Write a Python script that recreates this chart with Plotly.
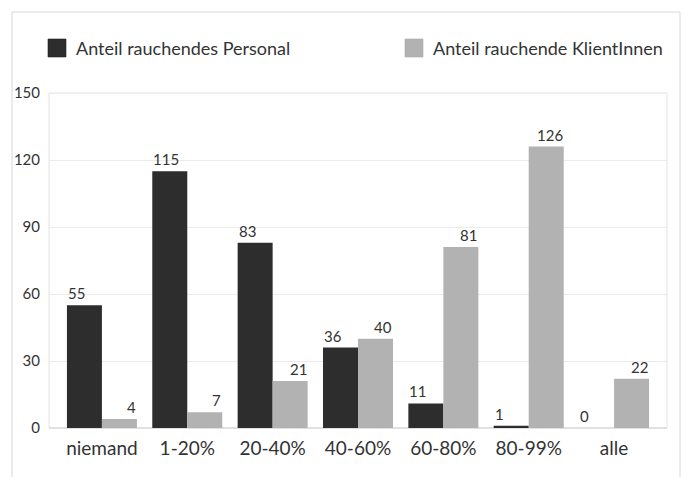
import plotly.graph_objects as go

categories = ["niemand", "1-20%", "20-40%", "40-60%", "60-80%", "80-99%", "alle"]
personal = [55, 115, 83, 36, 11, 1, 0]
klienten = [4, 7, 21, 40, 81, 126, 22]
series_names = ["Anteil rauchendes Personal", "Anteil rauchende KlientInnen"]
y_ticks = [0, 30, 60, 90, 120, 150]

DARK = "#2d2d2d"
LIGHT = "#b2b2b2"
TXT = "#333333"
FONT = "Lato"

W, H = 686, 477
L, R, T, B = 49, 19, 93, 49
pw, ph = W - L - R, H - T - B

fig = go.Figure()
fig.add_trace(go.Bar(x=categories, y=personal, name=series_names[0],
                     marker=dict(color=DARK, line=dict(width=0)),
                     showlegend=False))
fig.add_trace(go.Bar(x=categories, y=klienten, name=series_names[1],
                     marker=dict(color=LIGHT, line=dict(width=0)),
                     showlegend=False))

ann = []
for c, v in zip(categories, personal):
    ann.append(dict(x=c, y=v, text=str(v), xref="x", yref="y", showarrow=False,
                    xanchor="left", yanchor="bottom", xshift=-36, yshift=1,
                    font=dict(family=FONT, size=15, color=TXT)))
for c, v in zip(categories, klienten):
    ann.append(dict(x=c, y=v, text=str(v), xref="x", yref="y", showarrow=False,
                    xanchor="right", yanchor="bottom", xshift=36, yshift=1,
                    font=dict(family=FONT, size=15, color=TXT)))

def px_x(p):
    return (p - L) / pw

def px_y(p):
    return (H - B - p) / ph

# legend (manual)
leg = [(48, series_names[0], DARK), (405, series_names[1], LIGHT)]
shapes = []
for x0, name, col in leg:
    shapes.append(dict(type="rect", xref="paper", yref="paper",
                       x0=px_x(x0), x1=px_x(x0 + 18), y0=px_y(57), y1=px_y(39),
                       fillcolor=col, line=dict(width=0.6, color="#222" if col == DARK else "#aaa")))
    ann.append(dict(x=px_x(x0 + 26), y=px_y(48), xref="paper", yref="paper", text=name,
                    showarrow=False, xanchor="left", yanchor="middle",
                    font=dict(family=FONT, size=18, color=TXT)))

# outer frame
shapes.append(dict(type="rect", xref="paper", yref="paper",
                   x0=px_x(12), x1=px_x(680), y0=px_y(490), y1=px_y(12),
                   line=dict(color="#d8d8d8", width=1), fillcolor="rgba(0,0,0,0)", layer="below"))
# plot frame
shapes.append(dict(type="rect", xref="paper", yref="paper", x0=0, x1=1, y0=0, y1=1,
                   line=dict(color="#e2e2e2", width=1), layer="below"))

fig.update_layout(
    width=W, height=H,
    margin=dict(l=L, r=R, t=T, b=B, pad=0, autoexpand=False),
    paper_bgcolor="white", plot_bgcolor="white",
    barmode="group", bargap=0.18, bargroupgap=0,
    font=dict(family=FONT, color=TXT),
    annotations=ann, shapes=shapes,
)
fig.update_xaxes(range=[-0.62, 6.62], showgrid=False, showline=False, ticks="",
                 automargin=False,
                 tickfont=dict(family=FONT, size=19, color=TXT), ticklabelstandoff=7)
fig.update_yaxes(range=[0, 150], tickvals=y_ticks, showgrid=True, gridcolor="#ebebeb",
                 automargin=False,
                 gridwidth=1, zeroline=True, zerolinecolor="#e0e0e0", showline=False,
                 ticks="", tickfont=dict(family=FONT, size=15, color=TXT), ticklabelstandoff=8)

fig.write_html("out.html", config={"displayModeBar": False},
               post_script="document.body.style.margin='0';")
